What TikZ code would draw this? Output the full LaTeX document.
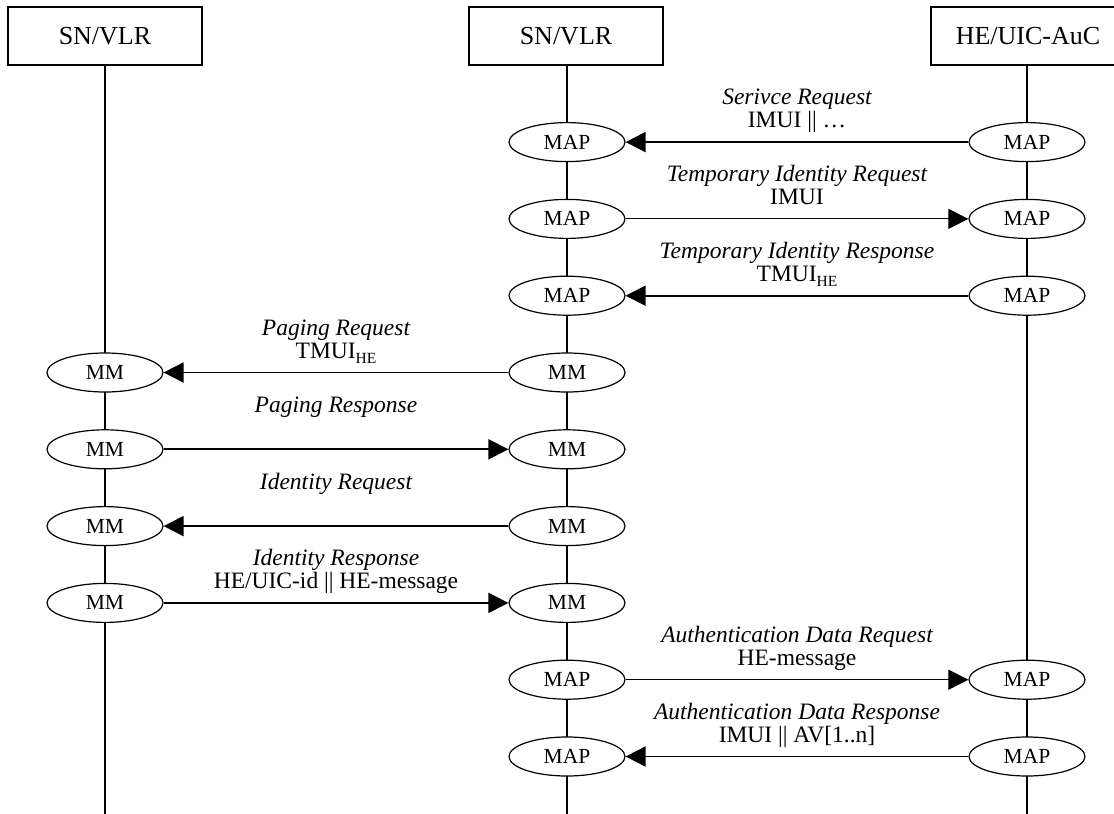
\documentclass[tikz,border=0pt]{standalone}
\usepackage{fontspec}
\setmainfont{Liberation Serif}
\usetikzlibrary{shapes.geometric,arrows.meta}
% lowered small text for identity subscripts
\newcommand{\lowtext}[1]{\raisebox{-5pt}{\fontsize{15.5}{16}\selectfont #1}}
\begin{document}
\begin{tikzpicture}[x=1pt,y=-1pt,
  head/.style={draw,line width=1.3pt,minimum width=194pt,minimum height=58pt,inner sep=0pt,
    font=\fontsize{26}{30}\selectfont},
  proto/.style={draw,ellipse,fill=white,line width=1.2pt,minimum width=116pt,minimum height=39pt,
    inner sep=0pt,font=\fontsize{21.5}{24}\selectfont},
  life/.style={line width=1.1pt},
  msg/.style={line width=1.8pt,-{Triangle[length=20pt,width=20pt]}},
  thinmsg/.style={msg,line width=1pt},
  lbl/.style={anchor=base,inner sep=0pt,text height=14pt,text depth=2.5pt,
    font=\fontsize{23.5}{26}\selectfont},
  msgname/.style={lbl,font=\fontsize{23.5}{26}\selectfont\itshape},
]
\useasboundingbox (0,0) rectangle (1114,814);

% entity boxes
\node[head] (hl) at (105,36) {SN/VLR};
\node[head] (hm) at (566,36) {SN/VLR};
\node[head] (hr) at (1028,36) {HE/UIC-AuC};

% lifelines
\coordinate (bl) at (105,814);
\coordinate (bm) at (567,814);
\coordinate (br) at (1027,814);
\draw[life] (hl.south) -- (bl);
\draw[life] (567,65) -- (bm);
\draw[life] (1027,65) -- (br);

% protocol endpoints
\node[proto] (c0) at (567,142.1) {MAP};
\node[proto] (r0) at (1027,142.1) {MAP};
\node[proto] (c1) at (567,218.9) {MAP};
\node[proto] (r1) at (1027,218.9) {MAP};
\node[proto] (c2) at (567,295.7) {MAP};
\node[proto] (r2) at (1027,295.7) {MAP};
\node[proto] (l3) at (105,372.5) {MM};
\node[proto] (c3) at (567,372.5) {MM};
\node[proto] (l4) at (105,449.3) {MM};
\node[proto] (c4) at (567,449.3) {MM};
\node[proto] (l5) at (105,526.1) {MM};
\node[proto] (c5) at (567,526.1) {MM};
\node[proto] (l6) at (105,602.9) {MM};
\node[proto] (c6) at (567,602.9) {MM};
\node[proto] (c7) at (567,679.7) {MAP};
\node[proto] (r7) at (1027,679.7) {MAP};
\node[proto] (c8) at (567,756.5) {MAP};
\node[proto] (r8) at (1027,756.5) {MAP};

% messages
\draw[msg] (r0) -- (c0);
\draw[thinmsg] (c1) -- (r1);
\draw[msg] (r2) -- (c2);
\draw[msg] (c3) -- (l3);
\draw[msg] (l4) -- (c4);
\draw[msg] (c5) -- (l5);
\draw[msg] (l6) -- (c6);
\draw[thinmsg] (c7) -- (r7);
\draw[msg] (r8) -- (c8);

% message names (italic) and parameters
\node[msgname] (t0a) at (797,104.7) {Serivce Request};
\node[lbl]     (t0b) at (797,127.7) {IMUI || …};
\node[msgname] (t1a) at (797,181.5) {Temporary Identity Request};
\node[lbl]     (t1b) at (797,204.5) {IMUI};
\node[msgname] (t2a) at (797,258.3) {Temporary Identity Response};
\node[lbl]     (t2b) at (797,281.3) {TMUI\lowtext{HE}};
\node[msgname] (t3a) at (336,335.1) {Paging Request};
\node[lbl]     (t3b) at (336,358.1) {TMUI\lowtext{HE}};
\node[msgname] (t4a) at (336,412.9) {Paging Response};
\node[msgname] (t5a) at (336,489.7) {Identity Request};
\node[msgname] (t6a) at (336,565.5) {Identity Response};
\node[lbl]     (t6b) at (336,588.5) {HE/UIC-id || HE-message};
\node[msgname] (t7a) at (797,642.3) {Authentication Data Request};
\node[lbl]     (t7b) at (797,665.3) {HE-message};
\node[msgname] (t8a) at (797,719.1) {Authentication Data Response};
\node[lbl]     (t8b) at (797,742.1) {IMUI || AV[1..n]};
\end{tikzpicture}
\end{document}
